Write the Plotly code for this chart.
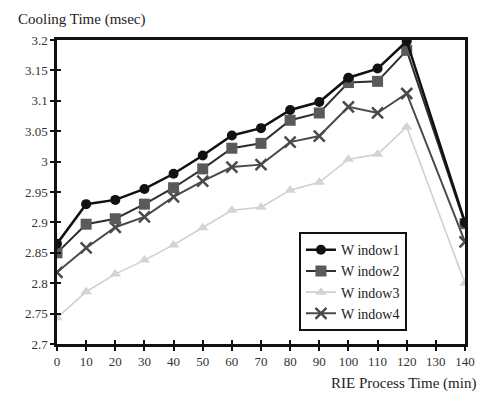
import plotly.graph_objects as go

x_vals = [0, 10, 20, 30, 40, 50, 60, 70, 80, 90, 100, 110, 120, 140]
window1 = [2.865, 2.930, 2.937, 2.955, 2.980, 3.010, 3.043, 3.055, 3.085, 3.098, 3.138, 3.153, 3.198, 2.900]
window2 = [2.850, 2.897, 2.906, 2.930, 2.957, 2.988, 3.022, 3.030, 3.068, 3.080, 3.130, 3.132, 3.183, 2.898]
window3 = [2.743, 2.786, 2.815, 2.838, 2.863, 2.891, 2.920, 2.925, 2.953, 2.966, 3.004, 3.012, 3.057, 2.800]
window4 = [2.818, 2.858, 2.892, 2.909, 2.942, 2.968, 2.991, 2.995, 3.032, 3.042, 3.090, 3.080, 3.112, 2.868]
x_ticks = [0, 10, 20, 30, 40, 50, 60, 70, 80, 90, 100, 110, 120, 130, 140]
y_ticks = [2.7, 2.75, 2.8, 2.85, 2.9, 2.95, 3.0, 3.05, 3.1, 3.15, 3.2]
y_tick_text = ["2.7", "2.75", "2.8", "2.85", "2.9", "2.95", "3", "3.05", "3.1", "3.15", "3.2"]

FONT = "Liberation Serif, Times New Roman, serif"
X_RANGE = [0, 140]
Y_RANGE = [2.7, 3.2]

fig = go.Figure()
fig.add_trace(go.Scatter(x=x_vals, y=window3, name="W indow3", mode="lines+markers", legendrank=3,
                         line=dict(color="#cfcfcf", width=1.6),
                         marker=dict(symbol="triangle-up", size=10, color="#d4d4d4")))
fig.add_trace(go.Scatter(x=x_vals, y=window4, name="W indow4", mode="lines+markers", legendrank=4,
                         line=dict(color="#4a4a4a", width=2),
                         marker=dict(symbol="x-thin", size=11, line=dict(color="#4a4a4a", width=2.5))))
fig.add_trace(go.Scatter(x=x_vals, y=window2, name="W indow2", mode="lines+markers", legendrank=2,
                         line=dict(color="#2e2e2e", width=2),
                         marker=dict(symbol="square", size=11, color="#5a5a5a")))
fig.add_trace(go.Scatter(x=x_vals, y=window1, name="W indow1", mode="lines+markers", legendrank=1,
                         line=dict(color="#111111", width=2.5),
                         marker=dict(symbol="circle", size=10, color="#111111")))
# empty trace so the inside-tick overlay axes are drawn
fig.add_trace(go.Scatter(x=[], y=[], xaxis="x2", yaxis="y2", showlegend=False, hoverinfo="skip"))

fig.update_layout(
    width=479, height=386,
    margin=dict(l=49, r=15, t=32, b=50),
    paper_bgcolor="white", plot_bgcolor="white",
    font=dict(family=FONT, size=13, color="#222"),
    showlegend=True,
    legend=dict(x=0.593, y=0.368, xanchor="left", yanchor="top",
                bordercolor="#111", borderwidth=2, bgcolor="white",
                font=dict(family=FONT, size=14, color="#222"),
                traceorder="normal", tracegroupgap=0),
    xaxis=dict(range=X_RANGE, tickvals=x_ticks, ticks="outside", ticklen=4, tickwidth=2,
               tickcolor="#111", showline=True, linecolor="#111", linewidth=2.5,
               mirror=True, showgrid=False, zeroline=False,
               tickfont=dict(family=FONT, size=13, color="#333")),
    yaxis=dict(range=Y_RANGE, tickvals=y_ticks, ticktext=y_tick_text, ticks="outside",
               ticklen=4, tickwidth=2, tickcolor="#111", showline=True, linecolor="#111",
               linewidth=2.5, mirror=True, showgrid=False, zeroline=False,
               tickfont=dict(family=FONT, size=13, color="#333")),
    xaxis2=dict(range=X_RANGE, tickvals=x_ticks, ticks="inside", ticklen=4, tickwidth=2,
                tickcolor="#111", showticklabels=False, showline=False, showgrid=False,
                zeroline=False, overlaying="x", anchor="y2", side="bottom"),
    yaxis2=dict(range=Y_RANGE, tickvals=y_ticks, ticks="inside", ticklen=4, tickwidth=2,
                tickcolor="#111", showticklabels=False, showline=False, showgrid=False,
                zeroline=False, overlaying="y", anchor="x2", side="left"),
    annotations=[
        dict(text="Cooling Time (msec)", xref="paper", yref="paper", x=-0.101, y=1.069,
             xanchor="left", yanchor="middle", showarrow=False,
             font=dict(family=FONT, size=15, color="#222")),
        dict(text="RIE Process Time (min)", xref="paper", yref="paper", x=1.031, y=-0.095,
             xanchor="right", yanchor="top", showarrow=False,
             font=dict(family=FONT, size=15, color="#222")),
    ],
)

fig.write_html("out.html")
